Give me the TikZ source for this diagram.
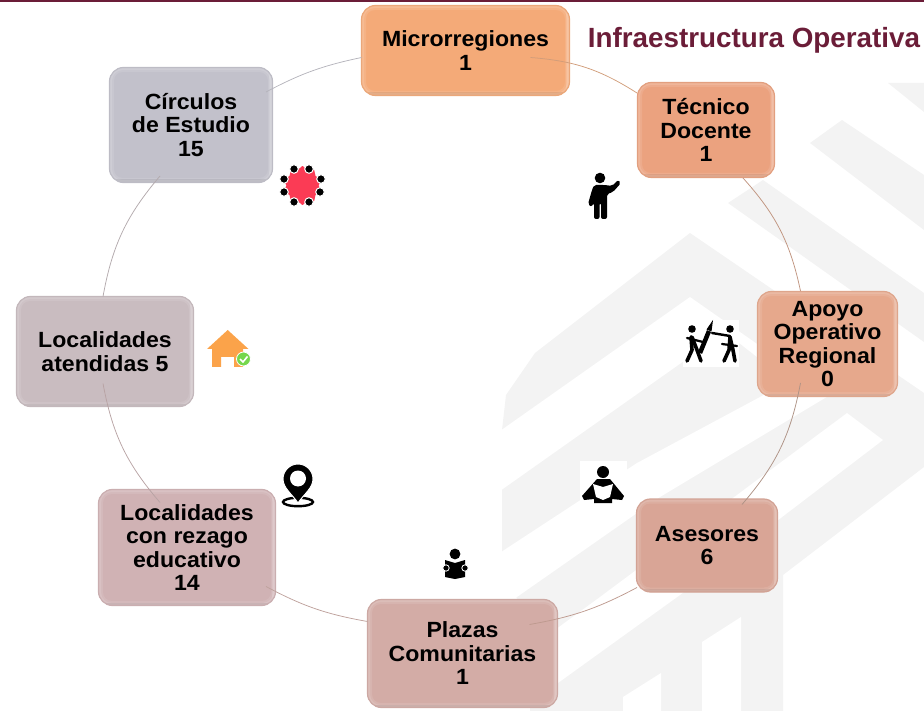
\documentclass[tikz,border=0pt]{standalone}
\usepackage{fontspec}
\setmainfont{Liberation Sans}
\newfontfamily\boxfont[FakeStretch=1.05]{Liberation Sans}
\usetikzlibrary{calc,shapes.geometric}
\definecolor{maroon}{HTML}{6B1D38}
\definecolor{wm}{HTML}{F3F3F3}
\definecolor{cMic}{HTML}{F4AA78}
\definecolor{cTec}{HTML}{EBA27F}
\definecolor{cApo}{HTML}{E6A88C}
\definecolor{cAse}{HTML}{D9A596}
\definecolor{cPla}{HTML}{D3ACA6}
\definecolor{cRez}{HTML}{D0B2B4}
\definecolor{cAte}{HTML}{C9BCC0}
\definecolor{cCir}{HTML}{C2C1CB}
\tikzset{
  card/.style={rectangle,rounded corners=14pt,fill=#1,draw=#1!92!gray,line width=1.2pt,
    align=center,inner sep=0pt,text=black,
    font=\boxfont\bfseries\fontsize{22}{23.5}\selectfont,
    path picture={
      \draw[white,opacity=.10,line width=9pt,rounded corners=13pt]
        (path picture bounding box.south west) rectangle (path picture bounding box.north east);
      \draw[white,opacity=.12,line width=5pt,rounded corners=13pt]
        (path picture bounding box.south west) rectangle (path picture bounding box.north east);
      \draw[black,opacity=.07,line width=6pt]
        (path picture bounding box.south west) -- (path picture bounding box.south east);
      \draw[white,opacity=.14,line width=7pt]
        (path picture bounding box.north east) -- (path picture bounding box.south east);}},
  link/.style={line width=.75pt,draw=#1},
  ink/.style={line width=3.6pt,line cap=round,line join=round,draw=black},
}
\begin{document}
\begin{tikzpicture}[x=1pt,y=-1pt]
\useasboundingbox (0,0) rectangle (924,711);
% watermark
\fill[wm] (502,430)--(506,395)--(535,353)--(690,233)--(924,393)--(924,467)--(783,575)--(783,711)--(530,711)--(530,640)--(502,552)--cycle;
\fill[wm] (888,83)--(924,83)--(924,112)--cycle;
\fill[wm] (810,143)--(842,120)--(924,175)--(924,230)--cycle;
\fill[wm] (728,203)--(763,180)--(924,293)--(924,342)--cycle;
\fill[white] (500,431)--(690,297)--(780,360)--(780,375)--(725,332)--(500,491)--cycle;
\fill[white] (495,556)--(637,463)--(760,397)--(800,375)--(835,392)--(660,497)--(517,597)--(495,612)--cycle;
\fill[white] (847,413)--(883,440)--(680,595)--(558,683)--(500,725)--(500,670)--(600,597)--cycle;
\fill[white] (741,712)--(741,617)--(702,642)--(702,712)--cycle;
\fill[white] (661,712)--(661,673)--(623,697)--(623,712)--cycle;
\fill[white] (683,320) rectangle (739,367);
\fill[white] (580,461) rectangle (627,505);
% top bar
\fill[maroon] (0,0) rectangle (924,2.5);
% title
\node[text=maroon,font=\bfseries\fontsize{27.8}{30}\selectfont,inner sep=0pt] (title) at (754,40) {Infraestructura Operativa};
% cards
\node[card=cMic,minimum width=208pt,minimum height=90pt] (mic) at (465.5,50.5) {Microrregiones\\1};
\node[card=cTec,minimum width=137pt,minimum height=95pt] (tec) at (706,130) {Técnico\\Docente\\1};
\node[card=cApo,minimum width=140pt,minimum height=105pt] (apo) at (827.5,344) {Apoyo\\Operativo\\Regional\\0};
\node[card=cAse,minimum width=141pt,minimum height=93pt] (ase) at (707,545.5) {Asesores\\6};
\node[card=cPla,minimum width=190pt,minimum height=108pt] (pla) at (462.5,653.5) {Plazas\\Comunitarias\\1};
\node[card=cRez,minimum width=177pt,minimum height=116pt] (rez) at (187,547.5) {Localidades\\con rezago\\educativo\\14};
\node[card=cAte,minimum width=177pt,minimum height=110pt] (ate) at (105,351.5) {Localidades\\atendidas 5};
\node[card=cCir,minimum width=163pt,minimum height=115pt] (cir) at (191,125) {Círculos\\de Estudio\\15};
% connectors
\draw[link=cMic!70!gray] ($(mic)+(65,7)$) to[bend left=14] ($(tec)+(-69,-37)$);
\draw[link=cTec!60!gray] ($(tec)+(37,48)$) to[bend left=15] ($(apo)+(-27,-53)$);
\draw[link=cApo!45!gray] ($(apo)+(-27,39)$) to[bend left=15] ($(ase)+(35,-41)$);
\draw[link=cAse!70!gray] ($(ase)+(-70,42)$) to[bend left=9] ($(pla)+(67,-29)$);
\draw[link=cPla!75!gray] ($(pla)+(-95,-32)$) to[bend left=9] ($(rez)+(79,39)$);
\draw[link=cRez!70!gray] ($(rez)+(-27,-45)$) to[bend left=15] ($(ate)+(-2,32)$);
\draw[link=cAte!70!gray] ($(ate)+(-2,-55)$) to[bend left=15] ($(cir)+(-31,51)$);
\draw[link=cCir!80!gray] ($(cir)+(75,-33)$) to[bend left=8] ($(mic)+(-104,7)$);
% teacher
\fill (600,178) circle (5.3);
\fill[rounded corners=2pt] (594,185)--(605,185)--(612,186)--(618,180)--(621,183)--(613,192)--(607,194)--(607,219)--(601,219)--(601,203)--(599.5,203)--(599.5,219)--(594,219)--(594,203)--(591,207)--(588,204)--(592,190)--cycle;
% pair
\fill (692,329) circle (3.8);
\fill (730,329) circle (3.8);
\draw[ink] (691,337)--(692,350)--(687,361);
\draw[ink] (692,337)--(697,350)--(701,361);
\draw[ink] (730,337)--(729,350)--(724,361);
\draw[ink] (730,337)--(733,350)--(735,361);
\draw[ink,line width=2.4pt] (730,336)--(712,333);
\draw[ink,line width=2.2pt] (687,338)--(703,342);
\draw[ink,line width=2.2pt] (722,344)--(737,346);
\draw[line width=4.5pt,draw=black] (700,353)--(709,331);
\fill (706.5,329.5)--(711.5,331.5)--(713,320)--cycle;
% reader
\fill (603,472) circle (6);
\fill (597,479)--(610,479)--(624,496)--(622,500)--(612,499)--(612,503)--(594,503)--(594,499)--(584,500)--(582,496)--cycle;
\fill[white] (593,484)--(603,487)--(613,484)--(610,497)--(603,500)--(596,497)--cycle;
% small reader
\fill (455,554) circle (5.4);
\fill (445,560)--(455,563)--(465,560)--(465,577)--(455,579)--(445,577)--cycle;
\fill[draw=white,line width=.8pt] (446,568) circle (3.2);
\fill[draw=white,line width=.8pt] (465,568) circle (3.2);
% pin
\draw[line width=2.4pt] (298,502) ellipse (15 and 4.2);
\fill[draw=white,line width=1pt] (298,503)..controls (292,494) and (283,488) .. (283,479) arc[start angle=180,end angle=360,radius=15] .. controls (313,488) and (304,494) .. (298,503)--cycle;
\fill[white] (298,478.5) circle (8);
% house
\definecolor{houseC}{HTML}{FBA34A}
\fill[houseC] (227.7,330)--(248.5,349)--(243,349)--(243,367)--(234,367)--(234,357)--(221,357)--(221,367)--(212,367)--(212,349)--(207,349)--cycle;
\fill[draw=white,line width=.8pt,fill=green!55!olive!70!white] (243.5,359) circle (7);
\draw[white,line width=1.6pt] (240,359)--(243,362)--(247.5,356.5);
% gear
\definecolor{gearC}{HTML}{FB3B55}
\node[star,star points=10,star point ratio=1.22,fill=gearC,draw=gearC,line width=1pt,line join=round,minimum size=38pt,inner sep=0pt] (gear) at (302.5,185.5) {};
\foreach \p in {(294,169),(309,169),(321,179),(320,192),(309,202),(294,202),(284,192),(284,179)}
  \fill[draw=white,line width=1pt] \p circle (4.3);
\end{tikzpicture}
\end{document}
